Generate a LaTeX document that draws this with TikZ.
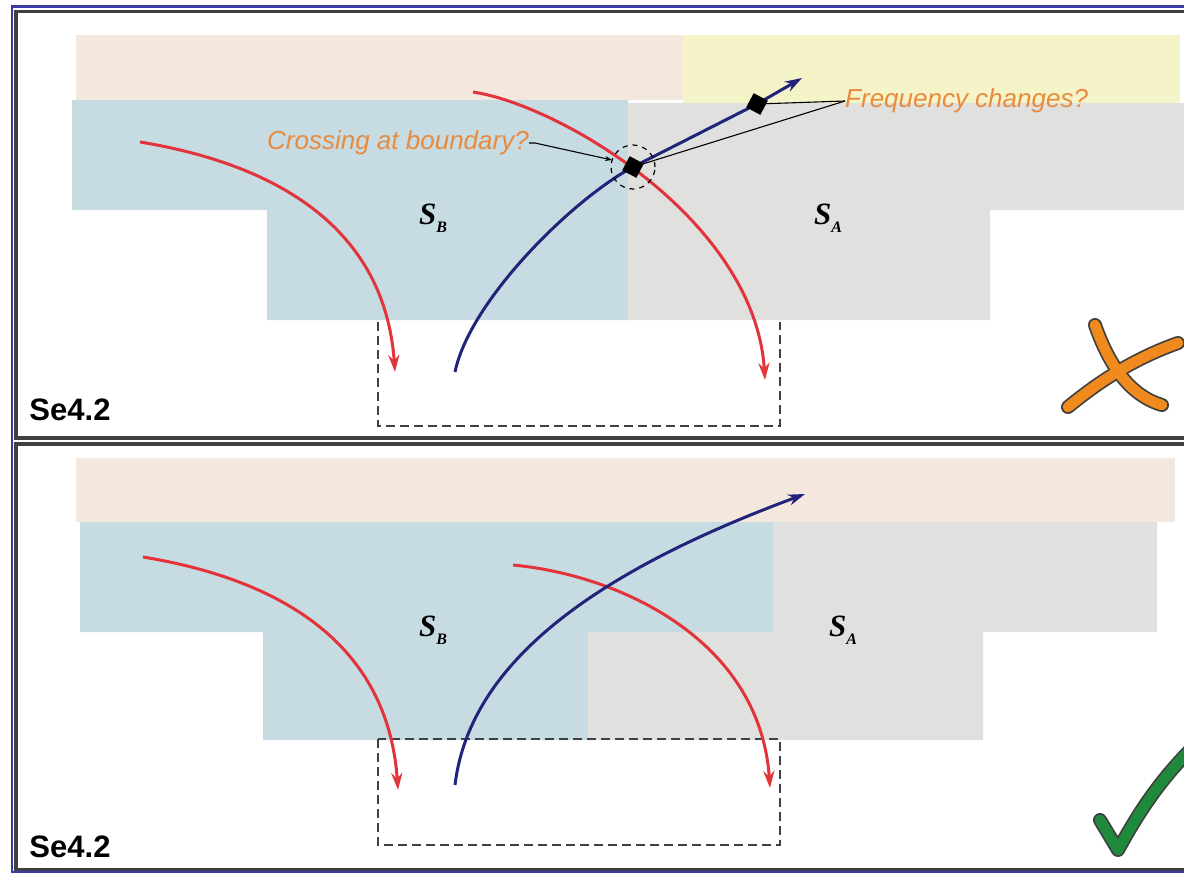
\documentclass[tikz,border=0pt]{standalone}
\usepackage{fontspec}
\setmainfont{Liberation Serif}
\setsansfont{Liberation Sans}
\usetikzlibrary{arrows.meta}
\definecolor{peach}{HTML}{F4E7DE}
\definecolor{lblue}{HTML}{C7DBE2}
\definecolor{lgray}{HTML}{E0E0DF}
\definecolor{lyellow}{HTML}{F5F3C8}
\definecolor{redc}{HTML}{E2343A}
\definecolor{bluec}{HTML}{22237A}
\definecolor{framec}{HTML}{3B3BA6}
\definecolor{darkc}{HTML}{404040}
\definecolor{oranget}{HTML}{E88B3E}
\definecolor{xorange}{HTML}{F08A1C}
\definecolor{cgreen}{HTML}{1F8A3C}
\tikzset{
  redarrow/.style={draw=redc, line width=3pt, -{Stealth[length=17pt,width=11pt]}},
  bluearrow/.style={draw=bluec, line width=3pt, -{Stealth[length=17pt,width=11pt]}},
  dashbox/.style={draw=darkc, line width=2.8pt, dash pattern=on 9pt off 5pt},
  panelframe/.style={draw=darkc, line width=3.2pt},
  labelS/.style={font=\fontsize{31}{31}\selectfont\bfseries\itshape, inner sep=0pt},
  selabel/.style={font=\sffamily\bfseries\fontsize{31}{31}\selectfont, inner sep=0pt},
  qtext/.style={font=\sffamily\itshape\fontsize{26}{26}\selectfont, text=oranget, inner sep=0pt},
  sq/.style={fill=black, minimum size=16pt, inner sep=0pt, draw=none},
  pointer/.style={draw=black, line width=1.1pt},
}
\newcommand{\SubS}[1]{S\raisebox{-8pt}{\fontsize{16}{16}\selectfont #1}}
\begin{document}
\begin{tikzpicture}[x=1pt,y=-1pt]
\useasboundingbox (0,0) rectangle (1184,873);
\clip (0,0) rectangle (1184,873);
\fill[white] (0,0) rectangle (1184,873);

% ---------- top panel regions ----------
\fill[peach] (76,35) rectangle (683,100);
\fill[lyellow] (683,35) rectangle (1180,103);
\fill[lblue] (72,100) -- (628,100) -- (628,320) -- (267,320) -- (267,210) -- (72,210) -- cycle;
\fill[lgray] (628,103) -- (1184,103) -- (1184,210) -- (990,210) -- (990,320) -- (628,320) -- cycle;

% dashed box (top)
\draw[dashbox] (378,322) -- (378,426) -- (780,426) -- (780,322);

% labels
\node[labelS] (sbt) at (433,218) {\SubS{B}};
\node[labelS] (sat) at (828,218) {\SubS{A}};
\node[selabel] (se1) at (70,410) {Se4.2};

% curves top
\coordinate (r1s) at (140,142);
\coordinate (r1e) at (395,372);
\draw[redarrow] (r1s) .. controls (280,165) and (385,230) .. (r1e);
\coordinate (r2s) at (473,92);
\coordinate (r2e) at (765,380);
\draw[redarrow] (r2s) .. controls (560,105) and (755,220) .. (r2e);
\coordinate (bs) at (455,372);
\coordinate (cross) at (633,167);
\coordinate (fq) at (757,104);
\coordinate (be) at (802,78);
\draw[bluearrow] (bs) .. controls (470,300) and (573,199) .. (cross) -- (fq) -- (be);

% crossing markers
\draw[black, line width=1.2pt, dash pattern=on 5pt off 5pt] (cross) circle (22pt);
\node[sq, rotate=-28] (sq1) at (cross) {};
\node[sq, rotate=-28] (sq2) at (fq) {};

% question texts
\node[qtext, anchor=east] (cq) at (529,143) {Crossing at boundary?};
\node[qtext, anchor=west] (fqt) at (845,101) {Frequency changes?};
\draw[pointer, -{Stealth[length=7pt,width=5pt]}] (cq.east) -- ++(6,0) -- (612,160);
\draw[pointer] (fqt.west) -- (sq2.center);
\draw[pointer] (fqt.west) -- (sq1.center);

% X mark
\draw[black!75, line width=14pt, line cap=round] (1095,325) .. controls (1108,362) and (1128,395) .. (1162,405);
\draw[black!75, line width=14pt, line cap=round] (1178,343) .. controls (1130,360) and (1095,385) .. (1068,407);
\draw[xorange, line width=10.5pt, line cap=round] (1095,325) .. controls (1108,362) and (1128,395) .. (1162,405);
\draw[xorange, line width=10.5pt, line cap=round] (1178,343) .. controls (1130,360) and (1095,385) .. (1068,407);

% ---------- bottom panel regions ----------
\fill[peach] (76,458) rectangle (1175,522);
\fill[lblue] (80,522) -- (773,522) -- (773,632) -- (588,632) -- (588,740) -- (263,740) -- (263,632) -- (80,632) -- cycle;
\fill[lgray] (773,522) -- (1157,522) -- (1157,632) -- (983,632) -- (983,740) -- (588,740) -- (588,632) -- (773,632) -- cycle;

\draw[dashbox] (378,739) rectangle (780,845);

\node[labelS] (sbb) at (433,630) {\SubS{B}};
\node[labelS] (sab) at (843,630) {\SubS{A}};
\node[selabel] (se2) at (70,847) {Se4.2};

\coordinate (br1s) at (143,557);
\coordinate (br1e) at (398,790);
\draw[redarrow] (br1s) .. controls (283,580) and (388,645) .. (br1e);
\coordinate (br2s) at (513,565);
\coordinate (br2e) at (770,788);
\draw[redarrow] (br2s) .. controls (620,575) and (760,640) .. (br2e);
\coordinate (bbs) at (455,785);
\coordinate (bbe) at (805,494);
\draw[bluearrow] (bbs) .. controls (470,660) and (600,570) .. (bbe);

% check mark
\draw[black!75, line width=14pt, line cap=round, line join=round] (1100,820) -- (1118,850) .. controls (1140,810) and (1160,780) .. (1195,745);
\draw[cgreen, line width=10.5pt, line cap=round, line join=round] (1100,820) -- (1118,850) .. controls (1140,810) and (1160,780) .. (1195,745);

% ---------- frames ----------
\draw[framec, line width=2.8pt] (12,6.5) rectangle (1200,872);
\draw[panelframe] (16,11.5) rectangle (1200,438);
\draw[panelframe] (16,444) rectangle (1200,869.5);
\end{tikzpicture}
\end{document}
